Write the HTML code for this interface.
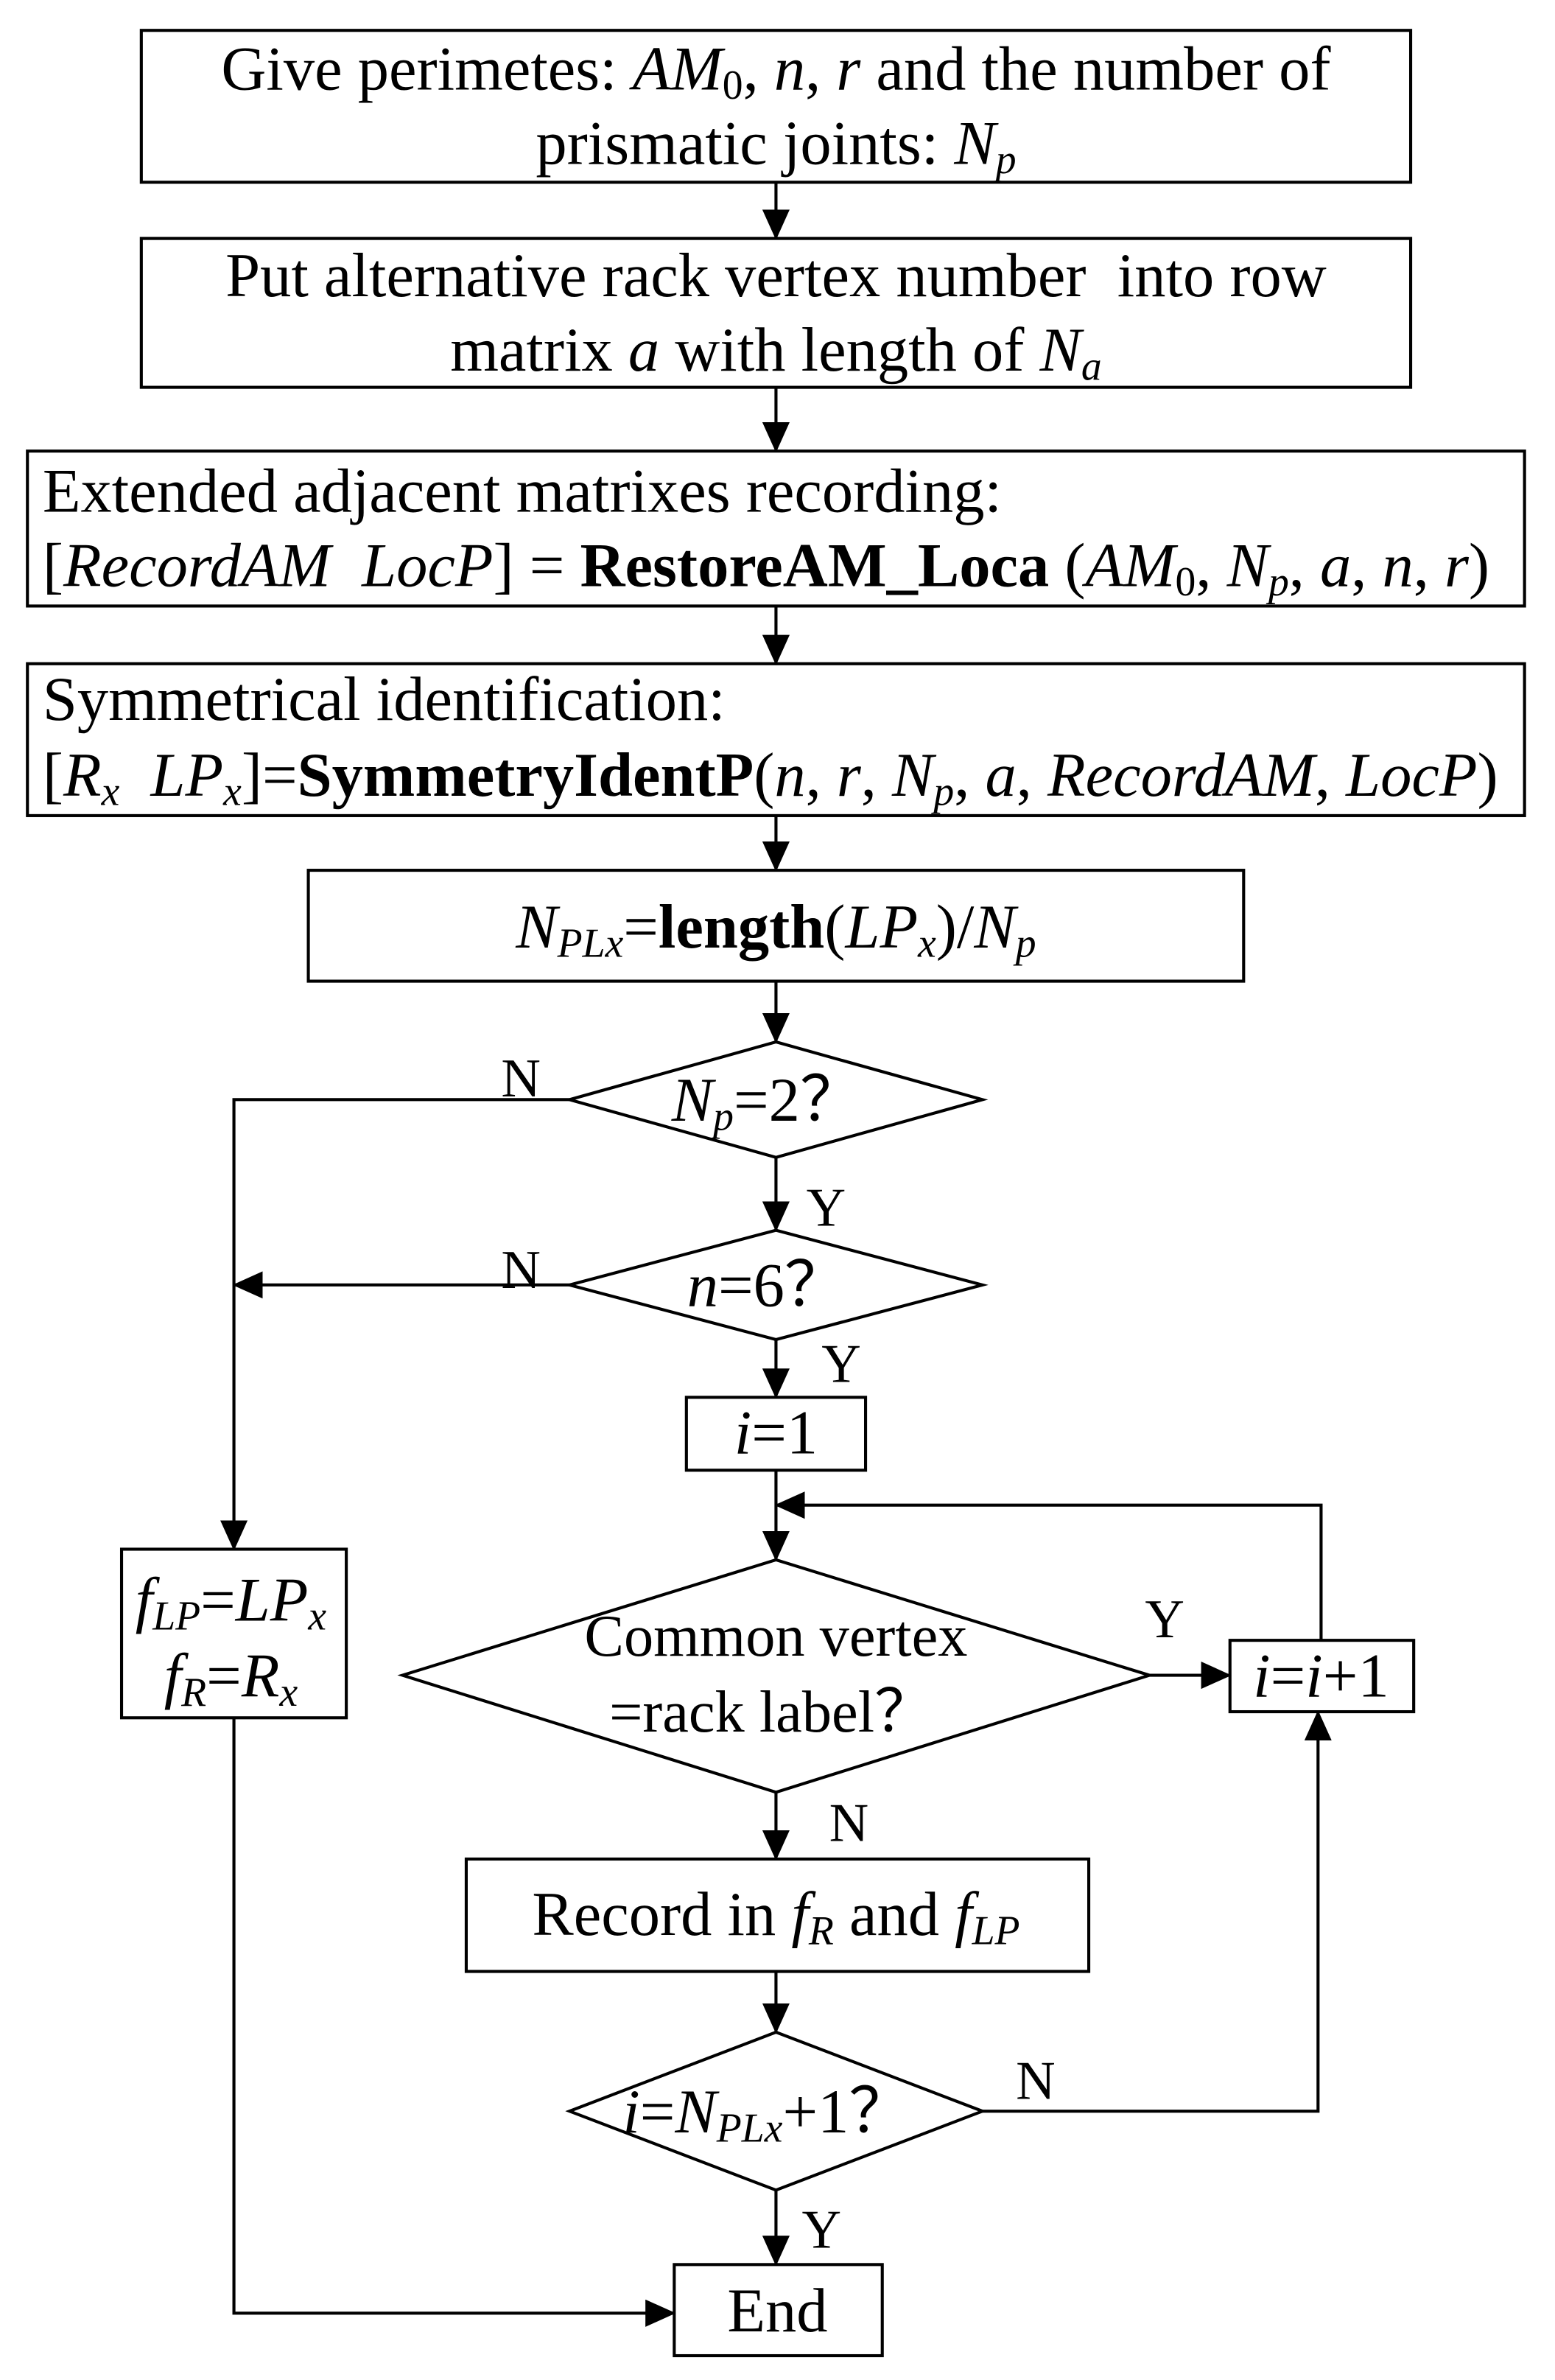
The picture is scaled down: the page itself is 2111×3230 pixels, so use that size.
<!DOCTYPE html>
<html><head><meta charset="utf-8"><style>html,body{margin:0;padding:0;background:#fff}svg{display:block}</style></head><body>
<svg xmlns="http://www.w3.org/2000/svg" width="2111" height="3230" viewBox="0 0 1024 1567" font-family="'Liberation Serif', serif" font-size="36" fill="#000">
<defs><marker id="b" markerWidth="20" markerHeight="18" refX="19" refY="9" orient="auto" markerUnits="userSpaceOnUse"><path d="M0,0 L20,9 L0,18 z" fill="#000"/></marker></defs>
<g fill="none" stroke="#000" stroke-width="2">
<rect x="93" y="20" width="836" height="100"/>
<rect x="93" y="157" width="836" height="98"/>
<rect x="18" y="297" width="986" height="102"/>
<rect x="18" y="437" width="986" height="100"/>
<rect x="203" y="573" width="616" height="73"/>
<polygon points="375,724 511,686 647,724 511,762"/>
<polygon points="375,846 511,810 647,846 511,882"/>
<rect x="452" y="920" width="118" height="48"/>
<polygon points="265,1103 511,1027 757,1103 511,1180"/>
<rect x="810" y="1080" width="121" height="47"/>
<rect x="80" y="1020" width="148" height="111"/>
<rect x="307" y="1224" width="410" height="74"/>
<polygon points="375,1390 511,1338 647,1390 511,1442"/>
<rect x="444" y="1491" width="137" height="60"/>
<g marker-end="url(#b)">
<line x1="511" y1="120" x2="511" y2="157"/>
<line x1="511" y1="255" x2="511" y2="297"/>
<line x1="511" y1="399" x2="511" y2="437"/>
<line x1="511" y1="537" x2="511" y2="573"/>
<line x1="511" y1="646" x2="511" y2="686"/>
<line x1="511" y1="762" x2="511" y2="810"/>
<line x1="511" y1="882" x2="511" y2="920"/>
<line x1="511" y1="968" x2="511" y2="1027"/>
<line x1="511" y1="1180" x2="511" y2="1224"/>
<line x1="511" y1="1298" x2="511" y2="1338"/>
<line x1="511" y1="1442" x2="511" y2="1491"/>
<polyline points="375,724 154,724 154,1020"/>
<line x1="375" y1="846" x2="154" y2="846"/>
<polyline points="154,1131 154,1523 444,1523"/>
<polyline points="870,1080 870,991 511,991"/>
<line x1="757" y1="1103" x2="810" y2="1103"/>
<polyline points="647,1390 868,1390 868,1127"/>
</g></g>
<g text-anchor="middle" font-size="41">
<text x="511" y="59">Give perimetes: <tspan font-style="italic">AM</tspan><tspan font-size="27" dy="6">0</tspan><tspan dy="-6">, </tspan><tspan font-style="italic">n</tspan>, <tspan font-style="italic">r</tspan> and the number of</text>
<text x="511" y="108">prismatic joints: <tspan font-style="italic">N</tspan><tspan font-style="italic" font-size="27" dy="6">p</tspan></text>
<text x="511" y="195">Put alternative rack vertex number&#160; into row</text>
<text x="511" y="244">matrix <tspan font-style="italic">a</tspan> with length of <tspan font-style="italic">N</tspan><tspan font-style="italic" font-size="27" dy="6">a</tspan></text>
<text x="511" y="624"><tspan font-style="italic">N</tspan><tspan font-style="italic" font-size="27" dy="6">PLx</tspan><tspan dy="-6">=</tspan><tspan font-weight="bold">length</tspan>(<tspan font-style="italic">LP</tspan><tspan font-style="italic" font-size="27" dy="6">x</tspan><tspan dy="-6">)/</tspan><tspan font-style="italic">N</tspan><tspan font-style="italic" font-size="27" dy="6">p</tspan></text>
<text x="505" y="738"><tspan font-style="italic">N</tspan><tspan font-style="italic" font-size="27" dy="6">p</tspan><tspan dy="-6">=2？</tspan></text>
<text x="505" y="860"><tspan font-style="italic">n</tspan>=6？</text>
<text x="511" y="957"><tspan font-style="italic">i</tspan>=1</text>
<text x="511" y="1090" font-size="39">Common vertex</text>
<text x="508" y="1140" font-size="39">=rack label？</text>
<text x="870" y="1117"><tspan font-style="italic">i</tspan>=<tspan font-style="italic">i</tspan>+1</text>
<text x="152" y="1067"><tspan font-style="italic">f</tspan><tspan font-style="italic" font-size="27" dy="6">LP</tspan><tspan dy="-6">=</tspan><tspan font-style="italic">LP</tspan><tspan font-style="italic" font-size="27" dy="6">x</tspan></text>
<text x="152" y="1117"><tspan font-style="italic">f</tspan><tspan font-style="italic" font-size="27" dy="6">R</tspan><tspan dy="-6">=</tspan><tspan font-style="italic">R</tspan><tspan font-style="italic" font-size="27" dy="6">x</tspan></text>
<text x="511" y="1274">Record in <tspan font-style="italic">f</tspan><tspan font-style="italic" font-size="27" dy="6">R</tspan><tspan dy="-6"> and </tspan><tspan font-style="italic">f</tspan><tspan font-style="italic" font-size="27" dy="6">LP</tspan></text>
<text x="505" y="1404"><tspan font-style="italic">i</tspan>=<tspan font-style="italic">N</tspan><tspan font-style="italic" font-size="27" dy="6">PLx</tspan><tspan dy="-6">+1？</tspan></text>
<text x="512" y="1535">End</text>
</g>
<g font-size="41">
<text x="28" y="337">Extended adjacent matrixes recording:</text>
<text x="28" y="386">[<tspan font-style="italic">RecordAM&#160;&#160;LocP</tspan>] = <tspan font-weight="bold">RestoreAM_Loca</tspan> (<tspan font-style="italic">AM</tspan><tspan font-size="27" dy="6">0</tspan><tspan dy="-6">, </tspan><tspan font-style="italic">N</tspan><tspan font-style="italic" font-size="27" dy="6">p</tspan><tspan dy="-6">, </tspan><tspan font-style="italic">a</tspan>, <tspan font-style="italic">n</tspan>, <tspan font-style="italic">r</tspan>)</text>
<text x="28" y="474">Symmetrical identification:</text>
<text x="28" y="524">[<tspan font-style="italic">R</tspan><tspan font-style="italic" font-size="27" dy="6">x</tspan><tspan dy="-6" font-style="italic">&#160;&#160;LP</tspan><tspan font-style="italic" font-size="27" dy="6">x</tspan><tspan dy="-6">]=</tspan><tspan font-weight="bold">SymmetryIdentP</tspan>(<tspan font-style="italic">n</tspan>, <tspan font-style="italic">r</tspan>, <tspan font-style="italic">N</tspan><tspan font-style="italic" font-size="27" dy="6">p</tspan><tspan dy="-6">, </tspan><tspan font-style="italic">a</tspan>, <tspan font-style="italic">RecordAM</tspan>, <tspan font-style="italic">LocP</tspan>)</text>
</g>
<text x="330" y="722">N</text>
<text x="531" y="807">Y</text>
<text x="330" y="848">N</text>
<text x="541" y="910">Y</text>
<text x="754" y="1078">Y</text>
<text x="546" y="1212">N</text>
<text x="669" y="1382">N</text>
<text x="528" y="1480">Y</text>
</svg>
</body></html>
